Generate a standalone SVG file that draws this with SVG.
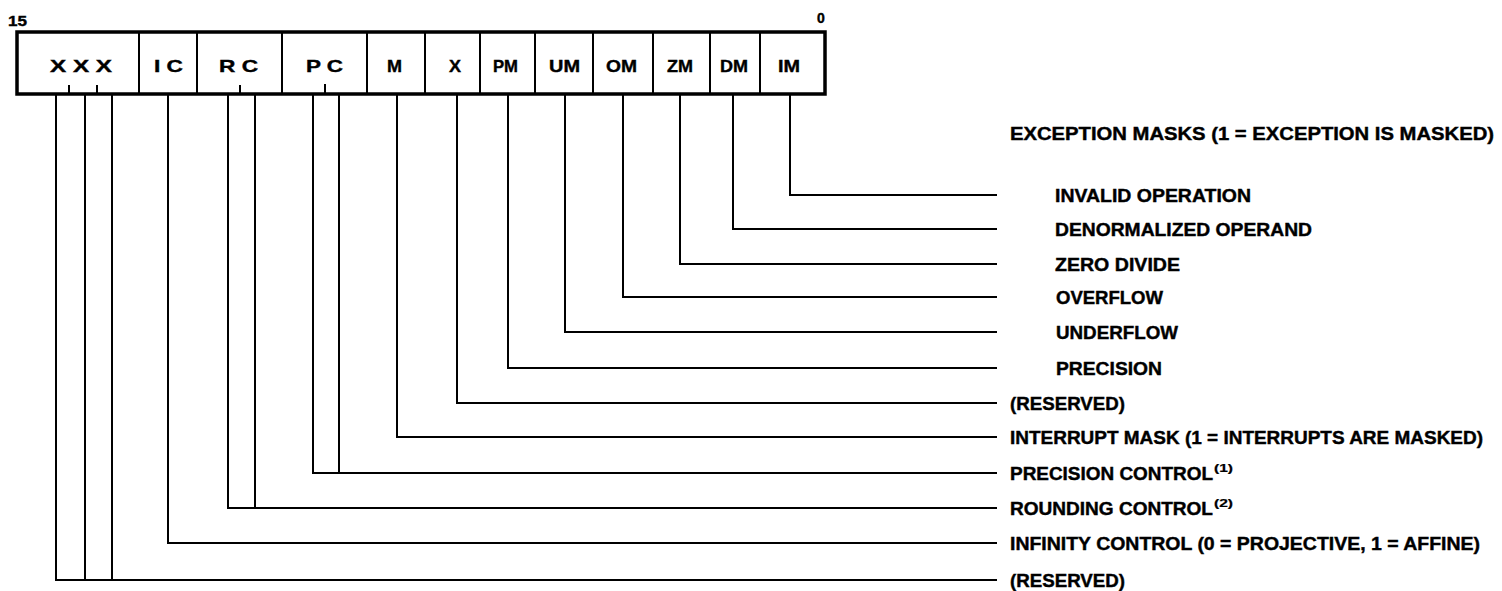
<svg xmlns="http://www.w3.org/2000/svg" width="1502" height="591" viewBox="0 0 1502 591">
<style>
.t{font-family:"Liberation Sans",Arial,sans-serif;font-weight:bold;fill:#000;stroke:#000;stroke-width:0.4;}
.f{font-size:17px;}
.l{font-size:17.5px;}
.s{font-size:10px;stroke-width:0.2;}
.w{fill:none;stroke:#000;stroke-width:2;}
.b{fill:#fff;stroke:#000;stroke-width:3.5;}
.d{stroke:#000;stroke-width:2;}
</style>
<rect width="1502" height="591" fill="#fff"/>
<text class="t" x="8" y="26" font-size="15" textLength="19" lengthAdjust="spacingAndGlyphs">15</text>
<text class="t" x="817" y="23" font-size="14">0</text>
<g id="register">
<rect class="b" x="17" y="32" width="808" height="62"/>
<g id="cell-xxx"><text class="t f" x="50" y="72" textLength="62" lengthAdjust="spacingAndGlyphs">X X X</text></g>
<line class="d" x1="139" y1="32" x2="139" y2="94"/>
<g id="cell-ic"><text class="t f" x="154" y="72" textLength="29" lengthAdjust="spacingAndGlyphs">I C</text></g>
<line class="d" x1="197" y1="32" x2="197" y2="94"/>
<g id="cell-rc"><text class="t f" x="219" y="72" textLength="39" lengthAdjust="spacingAndGlyphs">R C</text></g>
<line class="d" x1="282" y1="32" x2="282" y2="94"/>
<g id="cell-pc"><text class="t f" x="306" y="72" textLength="37" lengthAdjust="spacingAndGlyphs">P C</text></g>
<line class="d" x1="367" y1="32" x2="367" y2="94"/>
<g id="cell-m"><text class="t f" x="387" y="72" textLength="15" lengthAdjust="spacingAndGlyphs">M</text></g>
<line class="d" x1="425" y1="32" x2="425" y2="94"/>
<g id="cell-x"><text class="t f" x="449" y="72" textLength="12" lengthAdjust="spacingAndGlyphs">X</text></g>
<line class="d" x1="480" y1="32" x2="480" y2="94"/>
<g id="cell-pm"><text class="t f" x="493" y="72" textLength="25" lengthAdjust="spacingAndGlyphs">PM</text></g>
<line class="d" x1="535" y1="32" x2="535" y2="94"/>
<g id="cell-um"><text class="t f" x="549" y="72" textLength="31" lengthAdjust="spacingAndGlyphs">UM</text></g>
<line class="d" x1="593" y1="32" x2="593" y2="94"/>
<g id="cell-om"><text class="t f" x="606" y="72" textLength="31" lengthAdjust="spacingAndGlyphs">OM</text></g>
<line class="d" x1="653" y1="32" x2="653" y2="94"/>
<g id="cell-zm"><text class="t f" x="667" y="72" textLength="26" lengthAdjust="spacingAndGlyphs">ZM</text></g>
<line class="d" x1="710" y1="32" x2="710" y2="94"/>
<g id="cell-dm"><text class="t f" x="720" y="72" textLength="28" lengthAdjust="spacingAndGlyphs">DM</text></g>
<line class="d" x1="760" y1="32" x2="760" y2="94"/>
<g id="cell-im"><text class="t f" x="778" y="72" textLength="22" lengthAdjust="spacingAndGlyphs">IM</text></g>
<line class="d" x1="69" y1="85" x2="69" y2="94"/>
<line class="d" x1="97" y1="85" x2="97" y2="94"/>
<line class="d" x1="240" y1="85" x2="240" y2="94"/>
<line class="d" x1="325" y1="84" x2="325" y2="94"/>
</g>
<g id="connectors">
<polyline class="w" points="790,95 790,195 997,195"/>
<polyline class="w" points="733,95 733,229 997,229"/>
<polyline class="w" points="680,95 680,264 997,264"/>
<polyline class="w" points="623,95 623,297 997,297"/>
<polyline class="w" points="565,95 565,332 997,332"/>
<polyline class="w" points="508,95 508,368 997,368"/>
<polyline class="w" points="457,95 457,403 997,403"/>
<polyline class="w" points="397,95 397,437 997,437"/>
<polyline class="w" points="313,95 313,473 997,473"/>
<line class="d" x1="339" y1="95" x2="339" y2="473"/>
<polyline class="w" points="228,95 228,508 997,508"/>
<line class="d" x1="255" y1="95" x2="255" y2="508"/>
<polyline class="w" points="168,95 168,543 997,543"/>
<polyline class="w" points="56,95 56,580 997,580"/>
<line class="d" x1="85" y1="95" x2="85" y2="580"/>
<line class="d" x1="112" y1="95" x2="112" y2="580"/>
</g>
<g id="labels">
<text class="t l" x="1010" y="140" textLength="484" lengthAdjust="spacingAndGlyphs">EXCEPTION MASKS (1 = EXCEPTION IS MASKED)</text>
<g id="lbl-im"><text class="t l" x="1055" y="202" textLength="196" lengthAdjust="spacingAndGlyphs">INVALID OPERATION</text></g>
<g id="lbl-dm"><text class="t l" x="1055" y="236" textLength="257" lengthAdjust="spacingAndGlyphs">DENORMALIZED OPERAND</text></g>
<g id="lbl-zm"><text class="t l" x="1055" y="271" textLength="125" lengthAdjust="spacingAndGlyphs">ZERO DIVIDE</text></g>
<g id="lbl-om"><text class="t l" x="1056" y="304" textLength="107" lengthAdjust="spacingAndGlyphs">OVERFLOW</text></g>
<g id="lbl-um"><text class="t l" x="1056" y="339" textLength="122" lengthAdjust="spacingAndGlyphs">UNDERFLOW</text></g>
<g id="lbl-pm"><text class="t l" x="1056" y="375" textLength="106" lengthAdjust="spacingAndGlyphs">PRECISION</text></g>
<g id="lbl-x"><text class="t l" x="1010" y="410" textLength="115" lengthAdjust="spacingAndGlyphs">(RESERVED)</text></g>
<g id="lbl-m"><text class="t l" x="1010" y="444" textLength="473" lengthAdjust="spacingAndGlyphs">INTERRUPT MASK (1 = INTERRUPTS ARE MASKED)</text></g>
<g id="lbl-pc"><text class="t l" x="1010" y="480" textLength="203" lengthAdjust="spacingAndGlyphs">PRECISION CONTROL</text><text class="t s" x="1214" y="472" textLength="19" lengthAdjust="spacingAndGlyphs">(1)</text></g>
<g id="lbl-rc"><text class="t l" x="1010" y="515" textLength="203" lengthAdjust="spacingAndGlyphs">ROUNDING CONTROL</text><text class="t s" x="1214" y="507" textLength="19" lengthAdjust="spacingAndGlyphs">(2)</text></g>
<g id="lbl-ic"><text class="t l" x="1010" y="550" textLength="470" lengthAdjust="spacingAndGlyphs">INFINITY CONTROL (0 = PROJECTIVE, 1 = AFFINE)</text></g>
<g id="lbl-xxx"><text class="t l" x="1010" y="587" textLength="115" lengthAdjust="spacingAndGlyphs">(RESERVED)</text></g>
</g>
</svg>
